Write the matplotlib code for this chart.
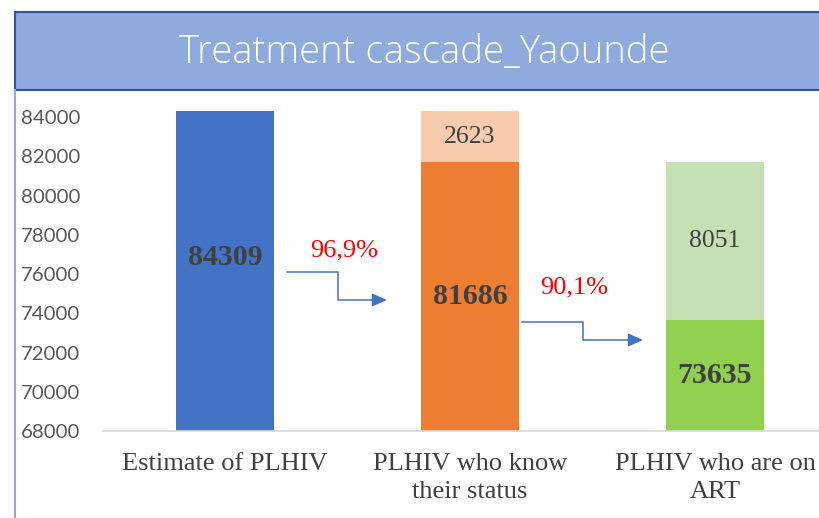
import matplotlib.pyplot as plt
from matplotlib.patches import Rectangle

# data
categories = ['Estimate of PLHIV', 'PLHIV who know\ntheir status', 'PLHIV who are on\nART']
base_values = [84309, 81686, 73635]
gap_values = [0, 2623, 8051]
base_colors = ['#4472C4', '#ED7D31', '#92D050']
gap_colors = ['#4472C4', '#F8CBAD', '#C5E0B4']
title = 'Treatment cascade_Yaounde'
yticks = list(range(68000, 84001, 2000))

W, H = 819, 518
fig = plt.figure(figsize=(W / 100, H / 100), dpi=100)

# axes placed in pixel terms (extends past right edge like the original)
ax_left, ax_right, ax_top, ax_bottom = 102.5, 837.5, 92, 431
ax = fig.add_axes([ax_left / W, 1 - ax_bottom / H,
                   (ax_right - ax_left) / W, (ax_bottom - ax_top) / H])
ymin = 68000
ymax = ymin + (ax_bottom - ax_top) / 39.25 * 2000
ax.set_xlim(-0.5, 2.5)
ax.set_ylim(ymin, ymax)

x = list(range(len(categories)))
ax.bar(x, [v - ymin for v in base_values], bottom=ymin, width=0.4, color=base_colors, zorder=2)
ax.bar(x, gap_values, bottom=base_values, width=0.4, color=gap_colors, zorder=2)

# value labels
serif = 'Liberation Serif'
label_y = [76850] + [(ymin + v) / 2 for v in base_values[1:]]
for i, v in enumerate(base_values):
    ax.text(i, label_y[i], str(v), ha='center', va='center', fontsize=21.5,
            fontweight='bold', color='#404040', family=serif, zorder=3)
for i, g in enumerate(gap_values):
    if g:
        ax.text(i, base_values[i] + g / 2, str(g), ha='center', va='center',
                fontsize=18.5, color='#404040', family=serif, zorder=3)

# elbow arrows with conversion percentages
arrow_x = [(0.253, 0.461, 0.661), (1.212, 1.461, 1.706)]
arrow_y = [(76102, 74675), (73554, 72637)]
pct_pos = [(0.486, 77223), (1.424, 75338)]
for k in range(2):
    (x0, xm, x1), (y0, y1) = arrow_x[k], arrow_y[k]
    ax.plot([x0, xm, xm, x1 - 0.05], [y0, y0, y1, y1], color='#4472C4', lw=1.1, zorder=3)
    ax.annotate('', xy=(x1, y1), xytext=(x1 - 0.06, y1),
                arrowprops=dict(arrowstyle='-|>,head_length=0.9,head_width=0.4',
                                color='#4472C4', lw=1.1, shrinkA=0, shrinkB=0))
    pct = base_values[k + 1] / base_values[k] * 100
    ax.text(pct_pos[k][0], pct_pos[k][1], f'{pct:.1f}%'.replace('.', ','),
            ha='center', va='center', fontsize=19, color='#FF0000', family=serif)

ax.set_xticks(x)
ax.set_xticklabels(categories, family=serif, fontsize=19, color='#404040', linespacing=1.35)
ax.set_yticks(yticks)
ax.set_yticklabels([str(t) for t in yticks], family='Lato', fontsize=14.7, color='#595959')
ax.tick_params(axis='both', length=0)
ax.tick_params(axis='y', pad=16)
ax.tick_params(axis='x', pad=16)
for s in ['top', 'right', 'left']:
    ax.spines[s].set_visible(False)
ax.spines['bottom'].set_color('#D9D9D9')
ax.spines['bottom'].set_linewidth(1.2)

# banner and left frame line
fig.add_artist(plt.Line2D([15 / W, 15 / W], [0, 1 - 90 / H], color='#8FAADC', lw=1.5,
                          transform=fig.transFigure))
fig.add_artist(Rectangle((15 / W, 1 - 90 / H), 1, 78 / H, transform=fig.transFigure,
                         facecolor='#8FAADC', edgecolor='#2F5597', lw=1.5))
fig.text((15 + 409) / W, 1 - 53 / H, title, ha='center', va='center', color='white',
         fontsize=27.5, family='Open Sans', fontweight='light')

fig.savefig('out.png', dpi=100)
